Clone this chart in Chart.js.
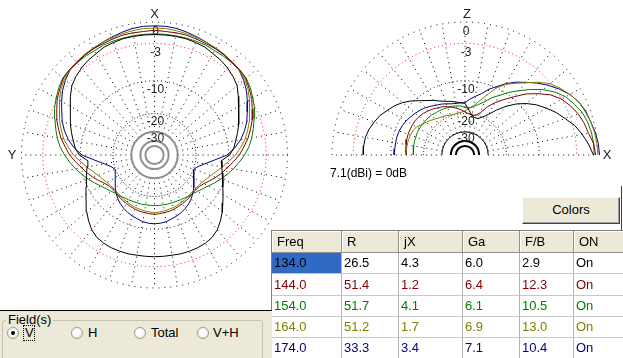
<!DOCTYPE html>
<html><head><meta charset="utf-8">
<script src="https://cdn.jsdelivr.net/npm/chart.js@4.4.0/dist/chart.umd.min.js"></script>
<style>
html,body{margin:0;padding:0;background:#fff;}
body{width:623px;height:358px;overflow:hidden;position:relative;font-family:"Liberation Sans",Arial,sans-serif;font-size:13px;color:#000;}
canvas{position:absolute;}
.a{position:absolute;}
.hd{position:absolute;background:#ECE9D8;border-right:1px solid #919191;border-bottom:1px solid #919191;box-shadow:inset 1px 1px 0 #fff;box-sizing:border-box;padding-left:5px;line-height:21px;white-space:nowrap;}
.cl{position:absolute;background:#fff;border-right:1px solid #B4B4B4;border-bottom:1px solid #C8C8C8;box-sizing:border-box;padding-left:2px;white-space:nowrap;}
.rb{position:absolute;width:12px;height:12px;border-radius:50%;border:1px solid #9A9A9A;background:radial-gradient(circle at 40% 40%,#fff 30%,#DCDCD6 100%);box-sizing:border-box;}
.rb.on::after{content:"";position:absolute;left:3px;top:3px;width:4px;height:4px;border-radius:50%;background:#000;}
</style></head><body>
<canvas id="az" width="310" height="310" style="left:0;top:0;"></canvas>
<canvas id="el" width="313" height="188" style="left:310px;top:0;"></canvas>
<div class="a" style="left:330px;top:166px;font-size:12px;line-height:14px;" id="refg"></div>
<div class="a" style="left:621px;top:186px;width:1px;height:45px;background:#404040;"></div>
<div class="a" style="left:522px;top:197px;width:98px;height:27px;box-sizing:border-box;background:#ECE9D8;border-top:1px solid #fff;border-left:1px solid #fff;border-right:1px solid #404040;border-bottom:1px solid #404040;box-shadow:inset -1px -1px 0 #A0A0A0;text-align:center;line-height:24px;">Colors</div>
<div id="tbl"></div>
<div class="a" style="left:0;top:310px;width:272px;height:48px;background:#ECE9D8;border-top:1px solid #000;box-sizing:border-box;"></div>
<div class="a" style="left:2px;top:320px;width:261px;height:50px;border:1px solid #C5C2B2;border-radius:3px;box-sizing:border-box;"></div>
<div class="a" style="left:6px;top:312px;padding:0 2px;background:#ECE9D8;line-height:16px;">Field(s)</div>
<div id="radios"></div>
<script>
// ---------------- data ----------------
const freqs   = ['134.0','144.0','154.0','164.0','174.0'];
const resR    = ['26.5','51.4','51.7','51.2','33.3'];
const resJX   = ['4.3','1.2','4.1','1.7','3.4'];
const gainGa  = ['6.0','6.4','6.1','6.9','7.1'];
const ratioFB = ['2.9','12.3','10.5','13.0','10.4'];
const onState = ['On','On','On','On','On'];
const tableHeaders = ['Freq','R','jX','Ga','F/B','ON'];
const fieldOptions = ['V','H','Total','V+H'];
const refGainText = '7.1(dBi) = 0dB';

// azimuth pattern (degrees clockwise from X), dB relative to 7.1 dBi
const azAngles = [0,5,10,15,20,25,30,35,40,45,50,55,60,65,70,75,80,85,90,95,100,105,110,115,120,125,130,135,140,145,150,155,160,165,170,175,180,185,190,195,200,205,210,215,220,225,230,235,240,245,250,255,260,265,270,275,280,285,290,295,300,305,310,315,320,325,330,335,340,345,350,355];
const az134 = [-1.7,-1.7,-1.7,-1.7,-1.8,-1.9,-2.2,-2.4,-2.7,-3.1,-3.6,-4.5,-5.4,-6.1,-6.8,-7.5,-8.2,-8.8,-9.8,-11.8,-11.4,-11.0,-10.4,-9.7,-8.9,-8.0,-7.0,-6.1,-5.3,-4.8,-4.6,-4.5,-4.5,-4.5,-4.6,-4.6,-4.6,
  -4.6,-4.6,-4.5,-4.5,-4.5,-4.6,-4.8,-5.3,-6.1,-7.0,-8.0,-8.9,-9.7,-10.4,-11.0,-11.4,-11.8,-9.8,-8.8,-8.2,-7.5,-6.8,-6.1,-5.4,-4.5,-3.6,-3.1,-2.7,-2.4,-2.2,-1.9,-1.8,-1.7,-1.7,-1.7];
const az144 = [-1.1,-1.2,-1.2,-1.2,-1.3,-1.4,-1.4,-1.5,-1.6,-1.7,-1.9,-2.4,-2.9,-3.6,-4.2,-5.0,-5.8,-6.8,-7.7,-8.9,-10.1,-11.1,-12.2,-13.4,-14.5,-15.2,-15.5,-15.5,-15.2,-15.0,-14.8,-14.6,-14.4,-14.2,-14.1,-14.0,-13.8,
  -14.0,-14.1,-14.2,-14.4,-14.6,-14.8,-15.0,-15.2,-15.5,-15.5,-15.2,-14.5,-13.4,-12.2,-11.1,-10.1,-8.9,-7.7,-6.8,-5.8,-5.0,-4.2,-3.6,-2.9,-2.4,-1.9,-1.7,-1.6,-1.5,-1.4,-1.4,-1.3,-1.2,-1.2,-1.2];
const az154 = [-1.6,-1.6,-1.6,-1.6,-1.6,-1.6,-1.7,-1.7,-1.7,-1.7,-1.8,-2.2,-2.7,-3.2,-3.9,-4.5,-5.1,-5.8,-6.7,-7.7,-8.7,-9.8,-10.9,-12.0,-13.1,-14.0,-14.7,-15.3,-15.6,-16.0,-16.2,-16.4,-16.5,-16.5,-16.6,-16.6,-16.6,
  -16.6,-16.6,-16.5,-16.5,-16.4,-16.2,-16.0,-15.6,-15.3,-14.7,-14.0,-13.1,-12.0,-10.9,-9.8,-8.7,-7.7,-6.7,-5.8,-5.1,-4.5,-3.9,-3.2,-2.7,-2.2,-1.8,-1.7,-1.7,-1.7,-1.7,-1.6,-1.6,-1.6,-1.6,-1.6];
const az164 = [-0.8,-0.8,-0.9,-1.0,-1.1,-1.2,-1.3,-1.4,-1.6,-1.8,-2.1,-2.6,-3.3,-4.1,-4.7,-5.5,-6.3,-7.4,-8.5,-10.0,-11.3,-12.6,-13.7,-14.5,-15.2,-15.6,-15.9,-15.9,-15.7,-15.5,-15.3,-15.1,-14.9,-14.8,-14.6,-14.5,-14.3,
  -14.5,-14.6,-14.8,-14.9,-15.1,-15.3,-15.5,-15.7,-15.9,-15.9,-15.6,-15.2,-14.5,-13.7,-12.6,-11.3,-10.0,-8.5,-7.4,-6.3,-5.5,-4.7,-4.1,-3.3,-2.6,-2.1,-1.8,-1.6,-1.4,-1.3,-1.2,-1.1,-1.0,-0.9,-0.8];
const az174 = [-0.5,-0.5,-0.6,-0.8,-1.0,-1.2,-1.4,-1.5,-1.7,-1.8,-2.3,-2.9,-3.7,-4.5,-5.2,-6.1,-7.2,-8.6,-10.4,-13.7,-16.5,-18.6,-19.9,-19.2,-18.5,-17.5,-16.4,-15.4,-14.5,-13.8,-13.2,-12.7,-12.3,-12.0,-11.6,-11.4,-11.3,
  -11.4,-11.6,-12.0,-12.3,-12.7,-13.2,-13.8,-14.5,-15.4,-16.4,-17.5,-18.5,-19.2,-19.9,-18.6,-16.5,-13.7,-10.4,-8.6,-7.2,-6.1,-5.2,-4.5,-3.7,-2.9,-2.3,-1.8,-1.7,-1.5,-1.4,-1.2,-1.0,-0.8,-0.6,-0.5];

// elevation pattern (degrees from X toward Z and beyond), dB
const elAngles = [0,5,10,15,20,25,30,35,40,45,50,55,60,65,70,75,80,85,90,95,100,105,110,115,120,125,130,135,140,145,150,155,160,165,170,175,180];
const el134 = [-0.6,-1.2,-1.9,-2.7,-3.8,-4.8,-6.0,-7.2,-8.7,-10.5,-12.7,-15.2,-17.9,-19.8,-21.1,-21.3,-20.6,-18.6,-16.2,-16.0,-15.5,-15.0,-14.5,-13.8,-12.8,-11.9,-10.8,-9.5,-8.4,-7.5,-6.8,-6.0,-5.5,-5.0,-4.7,-4.6,-4.6];
const el144 = [-0.3,-0.5,-1.0,-1.3,-1.7,-2.3,-3.0,-4.1,-5.7,-7.4,-9.6,-11.6,-13.5,-15.7,-18.6,-20.2,-20.4,-20.0,-19.4,-18.4,-17.7,-17.0,-16.3,-15.7,-15.3,-14.8,-14.4,-14.0,-13.7,-13.5,-13.5,-13.5,-13.5,-13.6,-13.7,-13.8,-14.0];
const el154 = [-0.5,-0.5,-0.6,-0.8,-1.1,-1.7,-2.3,-3.3,-4.6,-6.2,-7.9,-9.5,-11.3,-12.8,-14.7,-16.0,-17.0,-17.7,-17.7,-17.1,-16.8,-16.7,-16.6,-16.5,-16.4,-16.3,-16.1,-16.0,-16.0,-15.9,-15.9,-15.9,-16.0,-16.0,-16.1,-16.2,-16.2];
const el164 = [0.0,-0.1,-0.2,-0.4,-0.7,-1.0,-1.6,-2.3,-3.1,-4.4,-5.9,-7.2,-8.4,-10.1,-12.6,-14.8,-16.8,-17.9,-18.9,-19.4,-19.6,-19.7,-19.6,-19.2,-18.8,-18.5,-17.9,-17.2,-16.5,-15.8,-14.8,-14.4,-14.2,-14.1,-14.0,-14.0,-14.0];
const el174 = [0.2,0.1,-0.1,-0.4,-0.6,-1.0,-1.6,-2.5,-3.5,-4.6,-5.8,-6.9,-8.2,-9.7,-11.0,-12.7,-13.8,-14.8,-16.0,-16.0,-16.0,-15.8,-15.3,-14.8,-14.4,-13.8,-13.2,-12.7,-12.3,-11.9,-11.5,-11.2,-11.0,-10.9,-10.9,-10.9,-10.8];

const ringDb     = [0,-3,-10,-20,-30];
const ringLabels = ['0','-3','-10','-20','-30'];
const innerRingDb = [-38.5,-46];

// ---------------- styles / layout ----------------
const seriesColors = ['#000000','#800000','#008000','#808000','#000080'];
const labelOffset  = [10,9.5,8.5,8.5,6.5];

// ---------------- helpers ----------------
const R0X = 133, R0Y = 133;              // pixel radius of the 0 dB ring
function rho(db){ return Math.pow(0.89, -db/2); }   // ARRL log scale

function azPoints(vals){
  const pts = vals.map((v,i)=>{ const t = azAngles[i]*Math.PI/180, r = rho(v); return {x:r*Math.sin(t), y:r*Math.cos(t)}; });
  pts.push(pts[0]);
  return pts;
}
function elPoints(vals){
  return vals.map((v,i)=>{ const t = elAngles[i]*Math.PI/180, r = rho(v); return {x:r*Math.cos(t), y:r*Math.sin(t)}; });
}

function gridPlugin(kind){
  const half = kind === 'el';
  return {
    id: 'polarGrid_'+kind,
    beforeDatasetsDraw(chart){
      const {ctx, scales:{x, y}} = chart;
      const cx = x.getPixelForValue(0), cy = y.getPixelForValue(0);
      const sx = r => x.getPixelForValue(r) - cx;
      const sy = r => cy - y.getPixelForValue(r);
      ctx.save();
      ctx.strokeStyle = '#000'; ctx.lineWidth = 1; ctx.setLineDash([1,4]);
      const rin = rho(-30), rout = rho(0);
      const maxA = half ? 180 : 350;
      for (let a = 0; a <= maxA; a += 10){
        const t = a*Math.PI/180;
        const dx = half ? Math.cos(t) : Math.sin(t);
        const dy = half ? Math.sin(t) : Math.cos(t);
        ctx.beginPath();
        ctx.moveTo(x.getPixelForValue(rin*dx), y.getPixelForValue(rin*dy));
        ctx.lineTo(x.getPixelForValue(rout*dx), y.getPixelForValue(rout*dy));
        ctx.stroke();
      }
      const a0 = half ? Math.PI : 0, a1 = 2*Math.PI;
      const ringStyle = [
        {c:'#000', d:[1,5], w:1},
        {c:'#FF0000', d:[1,3], w:1},
        {c:'#000', d:[1,3], w:1},
        {c:'#000', d:[1,2], w:1},
        {c: half ? '#000' : '#909090', d:[], w: half ? 1 : 2}
      ];
      ringDb.forEach((db,i)=>{
        const r = rho(db), s = ringStyle[i];
        ctx.strokeStyle = s.c; ctx.lineWidth = s.w; ctx.setLineDash(s.d);
        ctx.beginPath(); ctx.ellipse(cx, cy, sx(r), sy(r), 0, a0, a1); ctx.stroke();
      });
      ctx.setLineDash([]);
      ctx.strokeStyle = half ? '#000' : '#909090'; ctx.lineWidth = 2;
      innerRingDb.forEach(db=>{
        const r = rho(db);
        ctx.beginPath(); ctx.ellipse(cx, cy, sx(r), sy(r), 0, a0, a1); ctx.stroke();
      });
      ctx.fillStyle = '#202020';
      ctx.font = '12px "Liberation Sans", Arial, sans-serif';
      ctx.textAlign = 'center'; ctx.textBaseline = 'middle';
      ringDb.forEach((db,i)=>{
        const py = y.getPixelForValue(rho(db)) + labelOffset[i];
        ctx.fillText(ringLabels[i], cx + 1, py);
      });
      ctx.font = '13px "Liberation Sans", Arial, sans-serif';
      if (half){
        ctx.fillText('Z', cx + 2, 14);
        ctx.fillText('X', cx + sx(rho(0)) + 9, cy);
      } else {
        ctx.fillText('X', cx, 14);
        ctx.fillText('Y', 12, cy);
      }
      ctx.restore();
    }
  };
}

function makeChart(id, W, H, cxPx, cyPx, datasets, kind){
  return new Chart(document.getElementById(id), {
    type: 'scatter',
    data: { datasets },
    options: {
      responsive: false, animation: false, devicePixelRatio: 1,
      layout: { padding: 0 },
      plugins: { legend: { display: false }, tooltip: { enabled: false } },
      scales: {
        x: { type: 'linear', display: false, min: -cxPx/R0X, max: (W-cxPx)/R0X },
        y: { type: 'linear', display: false, min: -(H-cyPx)/R0Y, max: cyPx/R0Y }
      },
      elements: { point: { radius: 0 }, line: { tension: 0, borderWidth: 1 } }
    },
    plugins: [gridPlugin(kind)]
  });
}

const azSeries = [az134, az144, az154, az164, az174];
const elSeries = [el134, el144, el154, el164, el174];
makeChart('az', 310, 310, 154.5, 155, azSeries.map((s,i)=>({
  label: freqs[i], data: azPoints(s), showLine: true, borderColor: seriesColors[i], backgroundColor: seriesColors[i], fill: false
})), 'az');
makeChart('el', 313, 188, 155, 155, elSeries.map((s,i)=>({
  label: freqs[i], data: elPoints(s), showLine: true, borderColor: seriesColors[i], backgroundColor: seriesColors[i], fill: false
})), 'el');
document.getElementById('refg').textContent = refGainText;

// ---------------- table ----------------
const colLeft = [272,342,399,463,520,574];
const colW    = [70,57,64,57,54,50];
const rowTop  = [253,274,296,317,338];
const tbl = document.getElementById('tbl');
let html = '<div class="a" style="left:271px;top:230px;width:352px;height:1px;background:#808080"></div>';
html += '<div class="a" style="left:271px;top:230px;width:1px;height:128px;background:#808080"></div>';
tableHeaders.forEach((h,c)=>{
  html += `<div class="hd" style="left:${colLeft[c]}px;top:231px;width:${colW[c]}px;height:22px;">${h}</div>`;
});
const cols = [freqs, resR, resJX, gainGa, ratioFB, onState];
freqs.forEach((f,r)=>{
  cols.forEach((col,c)=>{
    const sel = (r===0 && c===0);
    const bg = sel ? 'background:#316AC5;' : '';
    const h = (r<4?rowTop[r+1]:359)-rowTop[r];
    html += `<div class="cl" style="left:${colLeft[c]}px;top:${rowTop[r]}px;width:${colW[c]}px;height:${h}px;line-height:${h-1}px;color:${seriesColors[r]};${bg}">${col[r]}</div>`;
  });
});
tbl.innerHTML = html;

// ---------------- radio buttons ----------------
const radioX = [7,71,134,197];
const labelX = [25,88,151,213];
let rh = '';
fieldOptions.forEach((o,i)=>{
  rh += `<div class="rb${i===0?' on':''}" style="left:${radioX[i]}px;top:327px;"></div>`;
  rh += `<div class="a" style="left:${labelX[i]}px;top:325px;line-height:16px;">${o}</div>`;
});
rh += '<div class="a" style="left:23px;top:325px;width:12px;height:16px;border:1px dotted #000;box-sizing:border-box;"></div>';
document.getElementById('radios').innerHTML = rh;
</script>
</body></html>
